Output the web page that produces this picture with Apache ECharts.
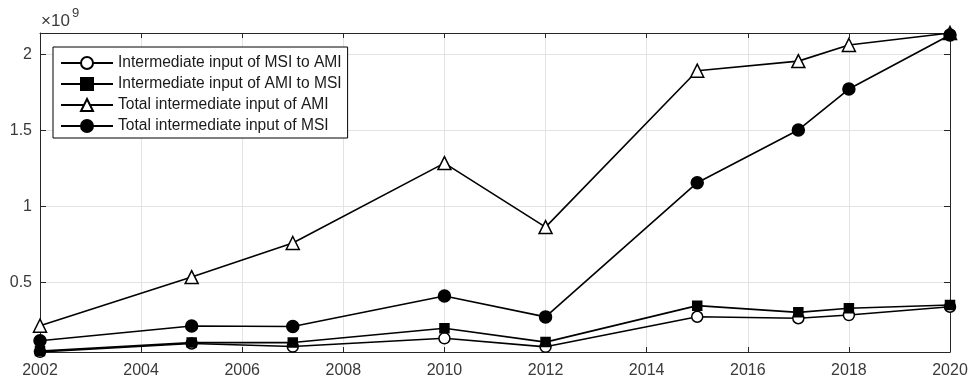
<!DOCTYPE html>
<html>
<head>
<meta charset="utf-8">
<script src="https://cdn.jsdelivr.net/npm/echarts@6/dist/echarts.min.js"></script>
<style>
  html, body { margin: 0; padding: 0; background: #fff; }
  #chart { width: 971px; height: 383px; }
</style>
</head>
<body>
<div id="chart"></div>
<script>
// Survey years
const years = [2002, 2005, 2007, 2010, 2012, 2015, 2017, 2018, 2020];

// Intermediate input values, in units of 10^9
const msiToAmi = [0.045, 0.100, 0.080, 0.134, 0.078, 0.276, 0.266, 0.287, 0.342];
const amiToMsi = [0.050, 0.106, 0.106, 0.200, 0.109, 0.349, 0.305, 0.332, 0.353];
const totalAmi = [0.217, 0.537, 0.761, 1.287, 0.866, 1.895, 1.958, 2.064, 2.143];
const totalMsi = [0.118, 0.215, 0.212, 0.412, 0.275, 1.158, 1.505, 1.774, 2.130];

// Axis ticks
const xTicks = [2002, 2004, 2006, 2008, 2010, 2012, 2014, 2016, 2018, 2020];
const yTicks = [0.5, 1, 1.5, 2];
const yMin = 0.044;
const yMax = 2.143;

const FONT = "'Liberation Sans', Arial, Helvetica, sans-serif";
const AXIS_COLOR = '#262626';
const LABEL_COLOR = '#3a3a3a';
const GRID_COLOR = '#e3e3e3';

const pairs = vals => years.map((y, i) => [y, vals[i]]);

function lineSeries(name, vals, symbol, size, filled) {
  return {
    name: name,
    type: 'line',
    data: pairs(vals),
    symbol: symbol,
    symbolSize: size,
    showAllSymbol: true,
    clip: false,
    lineStyle: { color: '#000', width: 1.6 },
    itemStyle: {
      color: filled ? '#000' : '#fff',
      borderColor: '#000',
      borderWidth: 1.5
    },
    emphasis: { disabled: true },
    z: 3
  };
}

const chart = echarts.init(document.getElementById('chart'), null, { renderer: 'canvas' });

chart.setOption({
  animation: false,
  backgroundColor: '#fff',
  textStyle: { fontFamily: FONT },
  grid: { left: 40, right: 21, top: 33, bottom: 31, containLabel: false },
  xAxis: [
    {
      type: 'value',
      min: xTicks[0], max: xTicks[xTicks.length - 1], interval: 2,
      position: 'bottom',
      axisLine: { show: true, lineStyle: { color: AXIS_COLOR, width: 1 } },
      axisTick: { show: true, inside: true, length: 5, lineStyle: { color: AXIS_COLOR } },
      axisLabel: {
        show: true, color: LABEL_COLOR, fontSize: 16, margin: 11, fontFamily: FONT,
        showMinLabel: true, showMaxLabel: true,
        formatter: v => String(v)
      },
      splitLine: { show: true, lineStyle: { color: GRID_COLOR, width: 1 } }
    },
    {
      type: 'value',
      min: xTicks[0], max: xTicks[xTicks.length - 1], interval: 2,
      position: 'top',
      axisLine: { show: true, lineStyle: { color: AXIS_COLOR, width: 1 } },
      axisTick: { show: true, inside: true, length: 5, lineStyle: { color: AXIS_COLOR } },
      axisLabel: { show: false },
      splitLine: { show: false }
    }
  ],
  yAxis: [
    {
      type: 'value',
      min: yMin, max: yMax,
      position: 'left',
      axisLine: { show: true, lineStyle: { color: AXIS_COLOR, width: 1 } },
      axisTick: { show: true, inside: true, length: 6, customValues: yTicks, lineStyle: { color: AXIS_COLOR } },
      axisLabel: {
        show: true, color: LABEL_COLOR, fontSize: 16, margin: 8, fontFamily: FONT,
        customValues: yTicks,
        formatter: v => String(v)
      },
      splitLine: { show: true, lineStyle: { color: GRID_COLOR, width: 1 } }
    },
    {
      type: 'value',
      min: yMin, max: yMax,
      position: 'right',
      axisLine: { show: true, lineStyle: { color: AXIS_COLOR, width: 1 } },
      axisTick: { show: true, inside: true, length: 6, customValues: yTicks, lineStyle: { color: AXIS_COLOR } },
      axisLabel: { show: false, customValues: yTicks },
      splitLine: { show: false }
    }
  ],
  legend: {
    orient: 'vertical',
    left: 53,
    top: 47,
    padding: [8, 6, 4, 7],
    itemGap: 5,
    itemWidth: 52,
    itemHeight: 15,
    backgroundColor: '#fff',
    borderColor: '#000',
    borderWidth: 1,
    borderRadius: 0,
    selectedMode: false,
    textStyle: { color: '#1a1a1a', fontSize: 15.6, fontFamily: FONT },
    data: [
      'Intermediate input of MSI to AMI',
      'Intermediate input of AMI to MSI',
      'Total intermediate input of AMI',
      'Total intermediate input of MSI'
    ]
  },
  graphic: [
    {
      type: 'text', left: 41, top: 13, z: 10,
      style: { text: '\u00d710', font: '17px ' + FONT, fill: LABEL_COLOR }
    },
    {
      type: 'text', left: 72, top: 7, z: 10,
      style: { text: '9', font: '13px ' + FONT, fill: LABEL_COLOR }
    }
  ],
  series: [
    lineSeries('Intermediate input of MSI to AMI', msiToAmi, 'circle', 11, false),
    lineSeries('Intermediate input of AMI to MSI', amiToMsi, 'rect', 9, true),
    lineSeries('Total intermediate input of AMI', totalAmi, 'triangle', 13, false),
    lineSeries('Total intermediate input of MSI', totalMsi, 'circle', 12, true)
  ]
});
</script>
</body>
</html>
